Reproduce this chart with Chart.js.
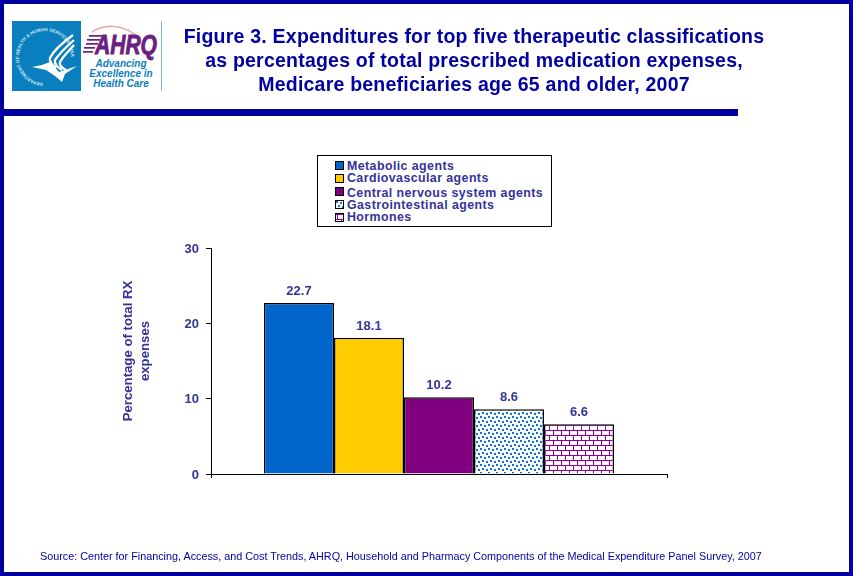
<!DOCTYPE html>
<html>
<head>
<meta charset="utf-8">
<title>Figure 3</title>
<script src="https://cdn.jsdelivr.net/npm/chart.js@4"></script>
<style>
  html, body { margin: 0; padding: 0; background: #fff; overflow: hidden; }
  #page { position: relative; width: 853px; height: 576px; font-family: "Liberation Sans", Arial, sans-serif; overflow: hidden; }
  #frame { position: absolute; left: 0; top: 0; width: 845px; height: 568px; border: 4px solid #0000a0; z-index: 5; pointer-events: none; }
  #rule { position: absolute; left: 0; top: 109px; width: 738px; height: 7px; background: #0000a0; }
  #logo { position: absolute; left: 12px; top: 21px; }
  #title { position: absolute; left: 170px; top: 24px; width: 608px; text-align: center; font-weight: bold; font-size: 19.5px; letter-spacing: 0.22px; line-height: 24px; color: #0000a0; white-space: nowrap; }
  #source { position: absolute; left: 40px; top: 550px; font-size: 10.8px; color: #0000a0; white-space: nowrap; }
  #chart { position: absolute; left: 0; top: 0; }
  #legend { position: absolute; left: 317px; top: 155px; width: 233px; height: 70px; border: 1px solid #000; background: #fff; }
  #legend div { position: absolute; left: 29px; font-weight: bold; font-size: 12.4px; line-height: 13px; color: #333399; white-space: nowrap; letter-spacing: 0.42px; }
  #legend canvas { position: absolute; left: -12px; width: 7px; height: 7px; border: 1px solid #000; }
</style>
</head>
<body>
<div id="page">
  <canvas id="chart" width="853" height="576"></canvas>
  <svg id="logo" width="150" height="70" viewBox="0 0 150 70">
    <defs><path id="ring" d="M33 62 A26 26 0 1 1 33.1 62"/></defs>
    <rect x="0" y="0" width="69" height="70" fill="#0a7fc0"/>
    <rect x="69" y="0" width="81" height="70" fill="#fff"/>
    <line x1="149.5" y1="0" x2="149.5" y2="70" stroke="#7fb5d8"/>
    <text font-family="Liberation Sans" font-weight="bold" font-size="4.6" fill="#cfe6f5"><textPath href="#ring" startOffset="2">DEPARTMENT OF HEALTH &amp; HUMAN SERVICES &#183; USA</textPath></text>
    <g fill="none" stroke="#fff" stroke-width="2.3">
      <path d="M61 14 C50 22 42 29 38 37 C37 41 40 44 44 47"/>
      <path d="M62 19 C53 27 47 33 43 39 C42 43 45 46 50 49"/>
      <path d="M62 24 C57 30 51 35 48 41 C47 44 50 47 54 49"/>
    </g>
    <path d="M20 46 L30 44 L38 41 L47 51 L65 45 L53 53 L50 61 L43 55 L34 49 Z" fill="#fff"/>
    <path d="M80 11 C92 3 112 2 128 18" fill="none" stroke="#e8b0a0" stroke-width="1.6"/>
    <g fill="#6b1f82" stroke="#6b1f82" stroke-width="0.9">
      <text x="83" y="33" font-family="Liberation Sans" font-weight="bold" font-style="italic" font-size="27" textLength="62" lengthAdjust="spacingAndGlyphs">AHRQ</text>
      <rect x="77" y="14" width="13" height="1.7" stroke="none"/>
      <rect x="75" y="18" width="13" height="1.7" stroke="none"/>
      <rect x="74" y="22" width="12" height="1.7" stroke="none"/>
      <rect x="72" y="26" width="11" height="1.7" stroke="none"/>
      <rect x="71" y="30" width="10" height="1.7" stroke="none"/>
    </g>
    <g fill="#0a7fc0" font-family="Liberation Sans" font-weight="bold" font-style="italic" font-size="10" text-anchor="middle">
      <text x="109" y="46">Advancing</text>
      <text x="109" y="56">Excellence in</text>
      <text x="109" y="66">Health Care</text>
    </g>
  </svg>
  <div id="title">Figure 3. Expenditures for top five therapeutic classifications<br>as percentages of total prescribed medication expenses,<br>Medicare beneficiaries age 65 and older, 2007</div>
  <div id="rule"></div>
  <div id="legend"></div>
  <div id="source">Source: Center for Financing, Access, and Cost Trends, AHRQ, Household and Pharmacy Components of the Medical Expenditure Panel Survey, 2007</div>
  <div id="frame"></div>
</div>
<script>
// data
const categories = ["2007"];
const seriesNames = ["Metabolic agents", "Cardiovascular agents", "Central nervous system agents", "Gastrointestinal agents", "Hormones"];
const seriesValues = [22.7, 18.1, 10.2, 8.6, 6.6];
const yTicks = [0, 10, 20, 30];
const yTitle = ["Percentage of total RX", "expenses"];

const textColor = "#333399";
const fontName = "'Liberation Sans', Arial, sans-serif";

function solid(color) {
  const c = document.createElement("canvas");
  c.width = 4; c.height = 4;
  const g = c.getContext("2d");
  g.fillStyle = color;
  g.fillRect(0, 0, 4, 4);
  return c;
}

// blue dots on white
function dotsTile() {
  const c = document.createElement("canvas");
  c.width = 8; c.height = 8;
  const g = c.getContext("2d");
  g.fillStyle = "#fff";
  g.fillRect(0, 0, 8, 8);
  g.fillStyle = "#0a6fe0";
  g.fillRect(0, 0, 2, 2);
  g.fillRect(4, 1, 2, 2);
  g.fillRect(2, 4, 2, 2);
  g.fillRect(6, 5, 2, 2);
  return c;
}

// purple bricks on white
function bricksTile() {
  const c = document.createElement("canvas");
  c.width = 8; c.height = 10;
  const g = c.getContext("2d");
  g.fillStyle = "#fff";
  g.fillRect(0, 0, 8, 10);
  g.fillStyle = "#990099";
  g.fillRect(0, 0, 8, 1);
  g.fillRect(0, 5, 8, 1);
  g.fillRect(1, 0, 1, 5);
  g.fillRect(5, 5, 1, 5);
  return c;
}

const ctx = document.getElementById("chart").getContext("2d");
const tiles = [solid("#0066cc"), solid("#ffcc00"), solid("#800080"), dotsTile(), bricksTile()];
const fills = tiles.map(t => ctx.createPattern(t, "repeat"));

// legend box, same order as the bars
const legendTops = [4, 16, 31, 43, 55];
const swatchTops = [1, 2, 0, 1, 2];
const legendBox = document.getElementById("legend");
seriesNames.forEach(function (name, i) {
  const row = document.createElement("div");
  row.style.top = legendTops[i] + "px";
  row.textContent = name;
  const swatch = document.createElement("canvas");
  swatch.width = 7; swatch.height = 7;
  swatch.style.top = swatchTops[i] + "px";
  const g = swatch.getContext("2d");
  g.fillStyle = g.createPattern(tiles[i], "repeat");
  g.fillRect(0, 0, 7, 7);
  row.appendChild(swatch);
  legendBox.appendChild(row);
});

const valueLabels = {
  id: "valueLabels",
  afterDatasetsDraw(chart) {
    const g = chart.ctx;
    g.save();
    g.font = "bold 13px " + fontName;
    g.fillStyle = textColor;
    g.textAlign = "center";
    g.textBaseline = "bottom";
    chart.data.datasets.forEach(function (ds, i) {
      const bar = chart.getDatasetMeta(i).data[0];
      g.fillText(ds.data[0].toFixed(1), bar.x, bar.y - 5);
    });
    // y title sits above the middle of the axis in the original
    g.font = "bold 13.2px " + fontName;
    g.translate(137, 351);
    g.rotate(-Math.PI / 2);
    g.textBaseline = "middle";
    yTitle.forEach(function (line, i) {
      g.fillText(line, 0, (i - 0.5) * 17.5);
    });
    g.restore();
  }
};

new Chart(ctx, {
  type: "bar",
  data: {
    labels: categories,
    datasets: seriesNames.map(function (name, i) {
      return {
        label: name,
        data: [seriesValues[i]],
        backgroundColor: fills[i],
        borderColor: "#000",
        borderWidth: 1.5,
        barPercentage: 1,
        categoryPercentage: 350 / 456
      };
    })
  },
  plugins: [valueLabels],
  options: {
    responsive: false,
    animation: false,
    layout: { padding: { left: 112, right: 186, top: 248, bottom: 98 } },
    plugins: { legend: { display: false }, tooltip: { enabled: false } },
    scales: {
      x: {
        afterFit(scale) { scale.height = 4; },
        ticks: { display: false },
        border: { color: "#000", width: 1 },
        grid: { drawOnChartArea: false, color: "#000", tickLength: 4, offset: true }
      },
      y: {
        min: 0,
        max: 30,
        afterFit(scale) { scale.width = 99; },
        afterBuildTicks(scale) { scale.ticks = yTicks.map(v => ({ value: v })); },
        ticks: { color: textColor, font: { family: fontName, size: 13, weight: "bold" }, padding: 7, labelOffset: 1 },
        border: { color: "#000", width: 1 },
        grid: { drawOnChartArea: false, color: "#000", tickLength: 5 }
      }
    }
  }
});
</script>
</body>
</html>
